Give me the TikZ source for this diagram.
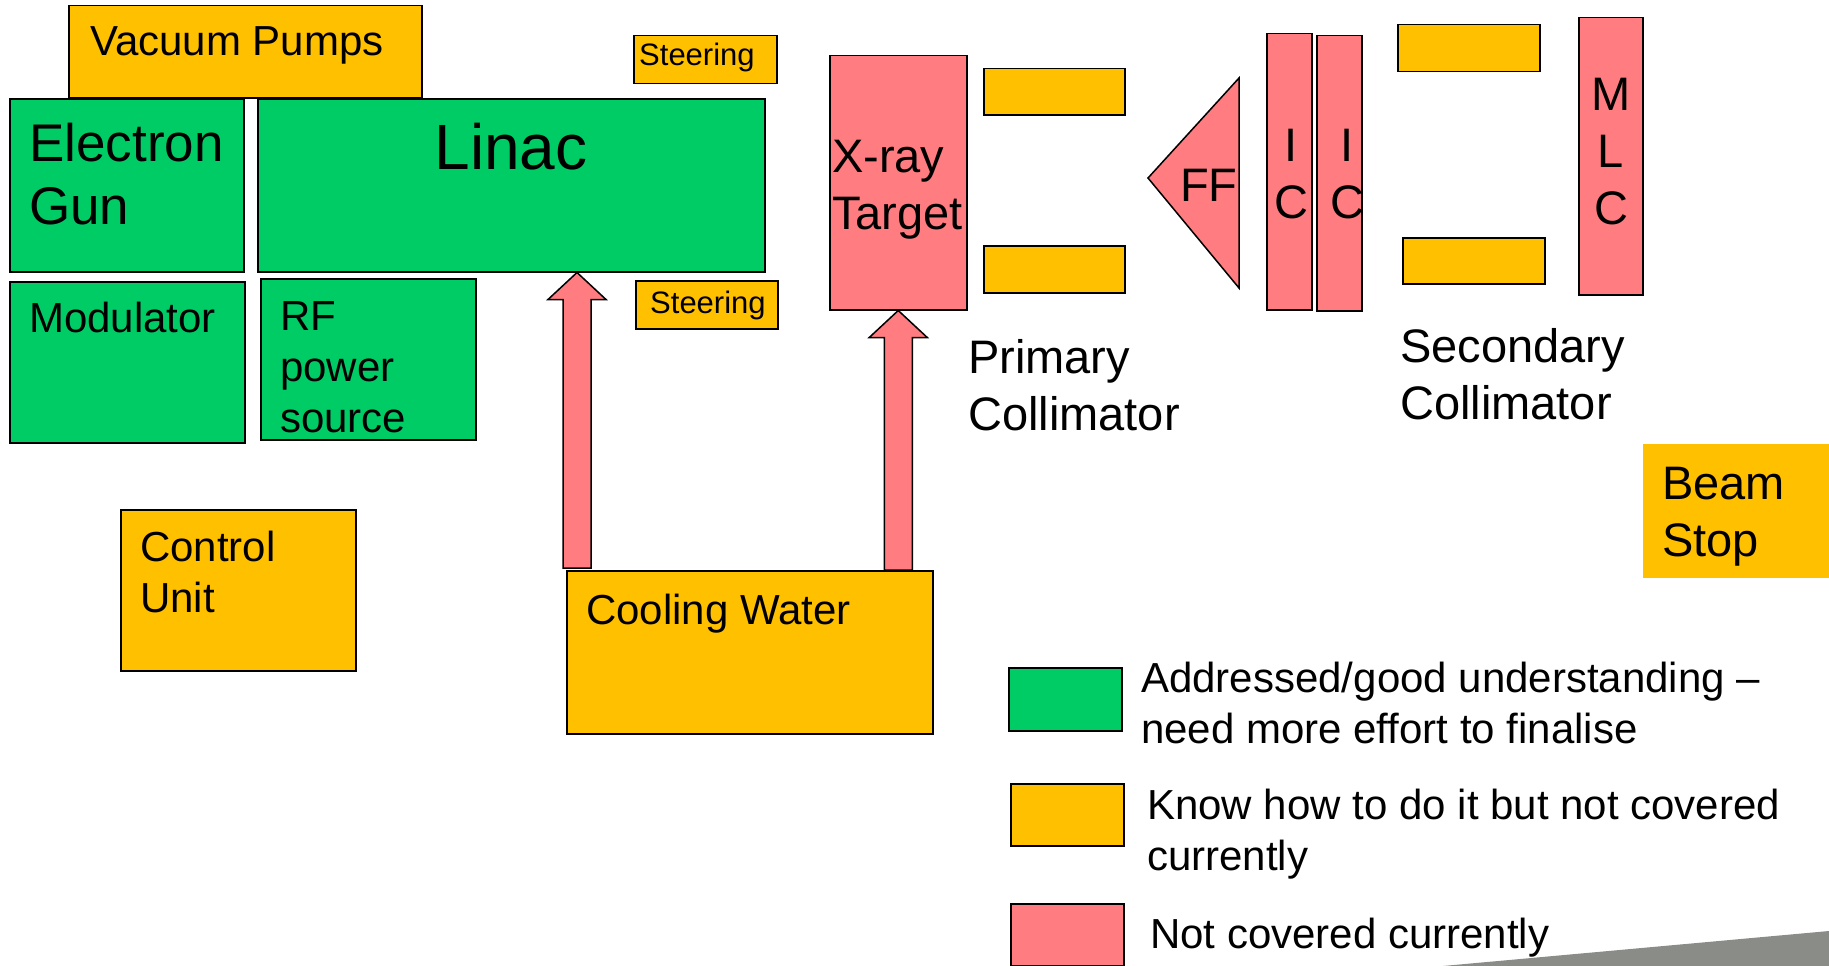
\documentclass[tikz,border=0pt]{standalone}
\usepackage{fontspec}
\setmainfont{Liberation Sans}
\usetikzlibrary{calc}
\definecolor{okgreen}{RGB}{0,204,102}
\definecolor{knowyellow}{RGB}{255,192,0}
\definecolor{notpink}{RGB}{255,124,128}
\definecolor{wedgegrey}{RGB}{138,140,136}
\newcommand{\fsteer}{\fontsize{31}{37}\selectfont}
\newcommand{\fsmall}{\fontsize{42}{51}\selectfont}
\newcommand{\fmid}{\fontsize{47}{57}\selectfont}
\newcommand{\fbig}{\fontsize{53}{63}\selectfont}
\newcommand{\fhuge}{\fontsize{64}{76}\selectfont}
\tikzstyle{box}=[draw=black, line width=1.5pt, inner sep=0pt, anchor=north west]
\tikzstyle{gbox}=[box, fill=okgreen]
\tikzstyle{ybox}=[box, fill=knowyellow]
\tikzstyle{pbox}=[box, fill=notpink]
\tikzstyle{lbl}=[inner sep=0pt, anchor=base west, align=left]
\newcommand{\blockarrow}[2]{%
    \draw[pbox] let \p1=(#1), \p2=(#2) in
        (\x1-14pt,\y1) -- (\x1-14pt,\y2-27pt) -- (\x1-29pt,\y2-27pt) -- (\x1,\y2)
        -- (\x1+29pt,\y2-27pt) -- (\x1+14pt,\y2-27pt) -- (\x1+14pt,\y1) -- cycle;}

\begin{document}
\begin{tikzpicture}[x=1pt, y=-1pt]
    \useasboundingbox (0,0) rectangle (1829,966);
% Source end
    \node[ybox, minimum width=353, minimum height=92] (vac) at (68,5) {};
    \node[gbox, minimum width=234, minimum height=173] (gun) at (9,98) {};
    \node[gbox, minimum width=507, minimum height=173] (linac) at (257,98) {};
    \node[gbox, minimum width=235, minimum height=161] (mod) at (9,281) {};
    \node[gbox, minimum width=215, minimum height=161] (rf) at (260,278) {};
    \node[ybox, minimum width=143, minimum height=48] (steertop) at (633,35) {};
    \node[ybox, minimum width=142, minimum height=48] (steerbot) at (635,280) {};
    \node[ybox, minimum width=235, minimum height=161] (ctrl) at (120,509) {};
    \node[ybox, minimum width=366, minimum height=163] (cool) at (566,570) {};
% Beam line
    \node[pbox, minimum width=137, minimum height=254] (target) at (829,55) {};
    \node[ybox, minimum width=141, minimum height=46] (pcoltop) at (983,68) {};
    \node[ybox, minimum width=141, minimum height=47] (pcolbot) at (983,245) {};
    \draw[pbox] (1148,178) -- (1239,78) -- (1239,288) -- cycle;
    \node[pbox, minimum width=45, minimum height=276] (ica) at (1266,33) {};
    \node[pbox, minimum width=45, minimum height=275] (icb) at (1316,35) {};
    \node[ybox, minimum width=142, minimum height=47] (scoltop) at (1397,24) {};
    \node[ybox, minimum width=142, minimum height=46] (scolbot) at (1402,237) {};
    \node[pbox, minimum width=64, minimum height=277] (mlc) at (1578,17) {};
    \node[ybox, draw=none, minimum width=187, minimum height=134] (stop) at (1642,443) {};
% Cooling pipes
    \coordinate (pipea) at ([xshift=11pt, yshift=2pt]cool.north west);
    \blockarrow{pipea}{pipea |- linac.south}
    \blockarrow{target.south |- cool.north}{target.south}
% Labels (multi-line ones sit on their last line)
    \node[lbl, font=\fsmall] (vaclbl) at (90,56) {Vacuum Pumps};
    \node[lbl, font=\fbig] (gunlbl) at (29,224) {Electron\\Gun};
    \node[lbl, font=\fhuge, anchor=base] (linaclbl) at (511,169) {Linac};
    \node[lbl, font=\fsmall] (modlbl) at (29,332) {Modulator};
    \node[lbl, font=\fsmall] (rflbl) at (280,432) {RF\\power\\source};
    \node[lbl, font=\fsteer] (steertoplbl) at (639,66) {Steering};
    \node[lbl, font=\fsteer] (steerbotlbl) at (650,313) {Steering};
    \node[lbl, font=\fsmall] (ctrllbl) at (140,612) {Control\\Unit};
    \node[lbl, font=\fsmall] (coollbl) at (586,624) {Cooling Water};
    \node[lbl, font=\fmid] (targetlbl) at (832,229) {X-ray\\Target};
    \node[lbl, font=\fmid] (fflbl) at (1180,201) {FF};
    \node[lbl, font=\fmid, anchor=base, align=center] (icalbl) at (1291,218) {I\\C};
    \node[lbl, font=\fmid, anchor=base, align=center] (icblbl) at (1347,218) {I\\C};
    \node[lbl, font=\fmid, anchor=base, align=center] (mlclbl) at (1611,224) {M\\L\\C};
    \node[lbl, font=\fmid] (pcollbl) at (968,430) {Primary\\Collimator};
    \node[lbl, font=\fmid] (scollbl) at (1400,419) {Secondary\\Collimator};
    \node[lbl, font=\fmid] (stoplbl) at (1662,556) {Beam\\Stop};
% Legend
    \node[gbox, minimum width=113, minimum height=63] (keygreen) at (1008,667) {};
    \node[ybox, minimum width=113, minimum height=62] (keyyellow) at (1010,783) {};
    \node[pbox, minimum width=113, minimum height=62] (keypink) at (1010,903) {};
    \node[lbl, font=\fsmall] (keygreenlbl) at (1141,743) {Addressed/good understanding --\\need more effort to finalise};
    \node[lbl, font=\fsmall] (keyyellowlbl) at (1147,870) {Know how to do it but not covered\\currently};
    \node[lbl, font=\fsmall] (keypinklbl) at (1150,948) {Not covered currently};
    \fill[wedgegrey] (1443,966) -- (1829,931) -- (1829,966) -- cycle;
\end{tikzpicture}
\end{document}
